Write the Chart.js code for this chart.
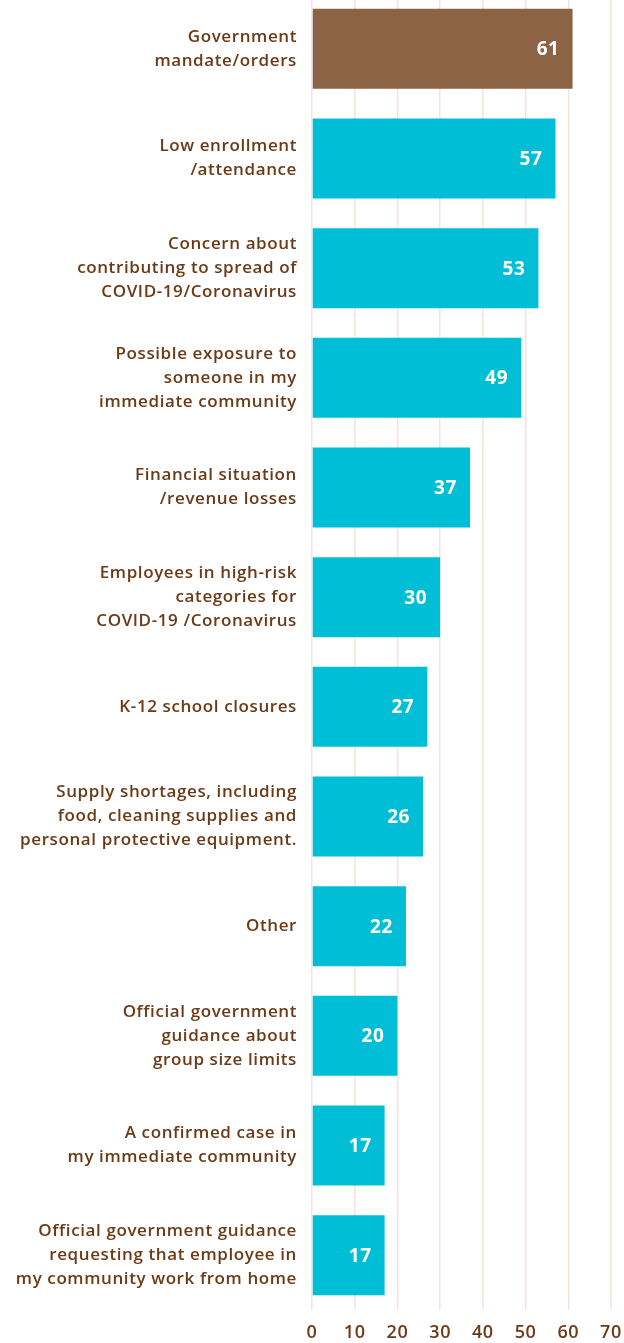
<!DOCTYPE html>
<html>
<head>
<meta charset="utf-8">
<script src="https://cdn.jsdelivr.net/npm/chart.js@4"></script>
<style>
  html, body { margin: 0; padding: 0; background: #fff; overflow: hidden; }
  #wrap { width: 624px; height: 1349px; margin-top: -6px; position: relative; }
</style>
</head>
<body>
<div id="wrap"><canvas id="chart-reasons"></canvas></div>
<script>
const categories = [
    ["Government", "mandate/orders"],
    ["Low enrollment", "/attendance"],
    ["Concern about", "contributing to spread of", "COVID-19/Coronavirus"],
    ["Possible exposure to", "someone in my", "immediate community"],
    ["Financial situation", "/revenue losses"],
    ["Employees in high-risk", "categories for", "COVID-19 /Coronavirus"],
    "K-12 school closures",
    ["Supply shortages, including", "food, cleaning supplies and", "personal protective equipment."],
    "Other",
    ["Official government", "guidance about", "group size limits"],
    ["A confirmed case in", "my immediate community"],
    ["Official government guidance", "requesting that employee in", "my community work from home"]
];
const values = [61, 57, 53, 49, 37, 30, 27, 26, 22, 20, 17, 17];
const xTicks = [0, 10, 20, 30, 40, 50, 60, 70];

const COLORS = {
    brown: '#8d6346',
    cyan: '#00bed6',
    text: '#6b3a17',
    grid: '#f3e3e1'
};

const barColors = values.map((v, i) => i === 0 ? COLORS.brown : COLORS.cyan);

// wider lettering, closer to the original typeface
const spacing = {
    id: 'spacing',
    beforeDraw(chart) { chart.ctx.letterSpacing = '0.6px'; }
};

// white numbers drawn inside the end of each bar
const valueLabels = {
    id: 'valueLabels',
    afterDatasetsDraw(chart) {
        const ctx = chart.ctx;
        const meta = chart.getDatasetMeta(0);
        ctx.save();
        ctx.fillStyle = '#fff';
        ctx.font = '700 19px "Open Sans", sans-serif';
        ctx.textAlign = 'right';
        ctx.textBaseline = 'middle';
        meta.data.forEach((bar, i) => {
            ctx.fillText(values[i], bar.x - 13, bar.y + 1);
        });
        ctx.restore();
    }
};

new Chart(document.getElementById('chart-reasons'), {
    type: 'bar',
    data: {
        labels: categories,
        datasets: [{
            data: values,
            backgroundColor: barColors,
            borderWidth: 0,
            barPercentage: 0.73,
            categoryPercentage: 1
        }]
    },
    options: {
        indexAxis: 'y',
        responsive: true,
        maintainAspectRatio: false,
        animation: false,
        layout: { padding: { top: 0, right: 13, left: 0, bottom: 0 } },
        plugins: {
            legend: { display: false },
            tooltip: { enabled: false }
        },
        scales: {
            x: {
                min: 0,
                max: 70,
                afterBuildTicks: axis => { axis.ticks = xTicks.map(v => ({ value: v })); },
                afterFit: axis => {
                    axis.height = 33;
                    axis.paddingLeft = 0;
                    axis.paddingRight = 0;
                },
                border: { display: false },
                grid: { color: COLORS.grid, lineWidth: 1.5, drawTicks: false },
                ticks: {
                    color: COLORS.text,
                    padding: 12,
                    maxRotation: 0,
                    font: { family: '"Open Sans", sans-serif', size: 18, weight: '600' }
                }
            },
            y: {
                afterFit: axis => {
                    axis.width = 312;
                    axis.paddingTop = 0;
                    axis.paddingBottom = 0;
                },
                border: { display: false },
                grid: { display: false, drawTicks: false },
                ticks: {
                    color: COLORS.text,
                    padding: 15,
                    autoSkip: false,
                    font: { family: '"Open Sans", sans-serif', size: 17, weight: '600', lineHeight: 1.42 }
                }
            }
        }
    },
    plugins: [spacing, valueLabels]
});
</script>
</body>
</html>
